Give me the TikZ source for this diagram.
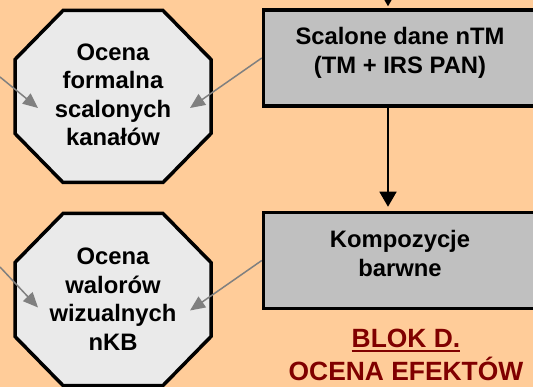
\documentclass[tikz,border=0pt]{standalone}
\usepackage{fontspec}
\setmainfont{Liberation Sans}
\usetikzlibrary{arrows.meta}

\definecolor{tlo}{HTML}{FFCC99}
\definecolor{oktszary}{HTML}{EAEAEA}
\definecolor{blokszary}{HTML}{C0C0C0}
\definecolor{strzszary}{HTML}{808080}
\definecolor{ciemnyczerw}{HTML}{800000}

\newcommand{\podkresl}[1]{\setbox0=\hbox{#1}\rlap{\rule[-4.5pt]{\wd0}{2pt}}\box0}

\begin{document}
\begin{tikzpicture}[x=1pt, y=-1pt,
  okt/.style={draw, line width=3.5pt, fill=oktszary},
  okttekst/.style={align=center, font=\fontsize{23.8}{28.5}\selectfont\bfseries},
  blok/.style={draw, line width=3.5pt, fill=blokszary, minimum width=273pt, minimum height=96pt,
    align=center, text depth=15pt, font=\fontsize{23.8}{29}\selectfont\bfseries},
  czarna/.style={-{Triangle[length=15pt, width=17pt]}, line width=1.5pt},
  szara/.style={-{Triangle[length=15pt, width=13pt]}, draw=strzszary, line width=1.5pt}]
\useasboundingbox (0,0) rectangle (533,387);
\fill[tlo] (0,0) rectangle (533,387);

% osmiokaty
\coordinate (oA) at (113,96.5);
\coordinate (oB) at (113,299.5);
\foreach \c in {oA,oB}
  \draw[okt, shift={(\c)}] (-50,-86) -- (50,-86) -- (98,-37) -- (98,37) -- (50,86)
    -- (-50,86) -- (-98,37) -- (-98,-37) -- cycle;

\node[okttekst] (formal) at (113,95) {Ocena\\formalna\\scalonych\\kanałów};
\node[okttekst] (walory) at (113,299) {Ocena\\walorów\\wizualnych\\nKB};

% bloki
\node[blok] (scal) at (400,58) {Scalone dane nTM\\(TM + IRS PAN)};
\node[blok] (komp) at (400,260.5) {Kompozycje\\barwne};

\node[align=center, text=ciemnyczerw, font=\fontsize{26.4}{33}\selectfont\bfseries] (blokD) at (406,355)
  {\podkresl{BLOK D.}\\OCENA EFEKTÓW};

\coordinate (gora) at (388,-25);
\coordinate (lewyA) at (0,77);
\coordinate (lewyB) at (0,267);

\draw[czarna, shorten >=2pt] (gora) -- ([xshift=-12pt]scal.north);
\draw[czarna, shorten >=4pt] ([xshift=-12pt]scal.south) -- ([xshift=-12pt]komp.north);

\draw[szara] (lewyA) -- ([xshift=-75pt, yshift=-11.5pt]oA);
\draw[szara] (scal.west) -- ([xshift=77pt, yshift=-11.5pt]oA);
\draw[szara] (lewyB) -- ([xshift=-75pt, yshift=-8pt]oB);
\draw[szara] (komp.west) -- ([xshift=77pt, yshift=-11pt]oB);
\end{tikzpicture}
\end{document}
